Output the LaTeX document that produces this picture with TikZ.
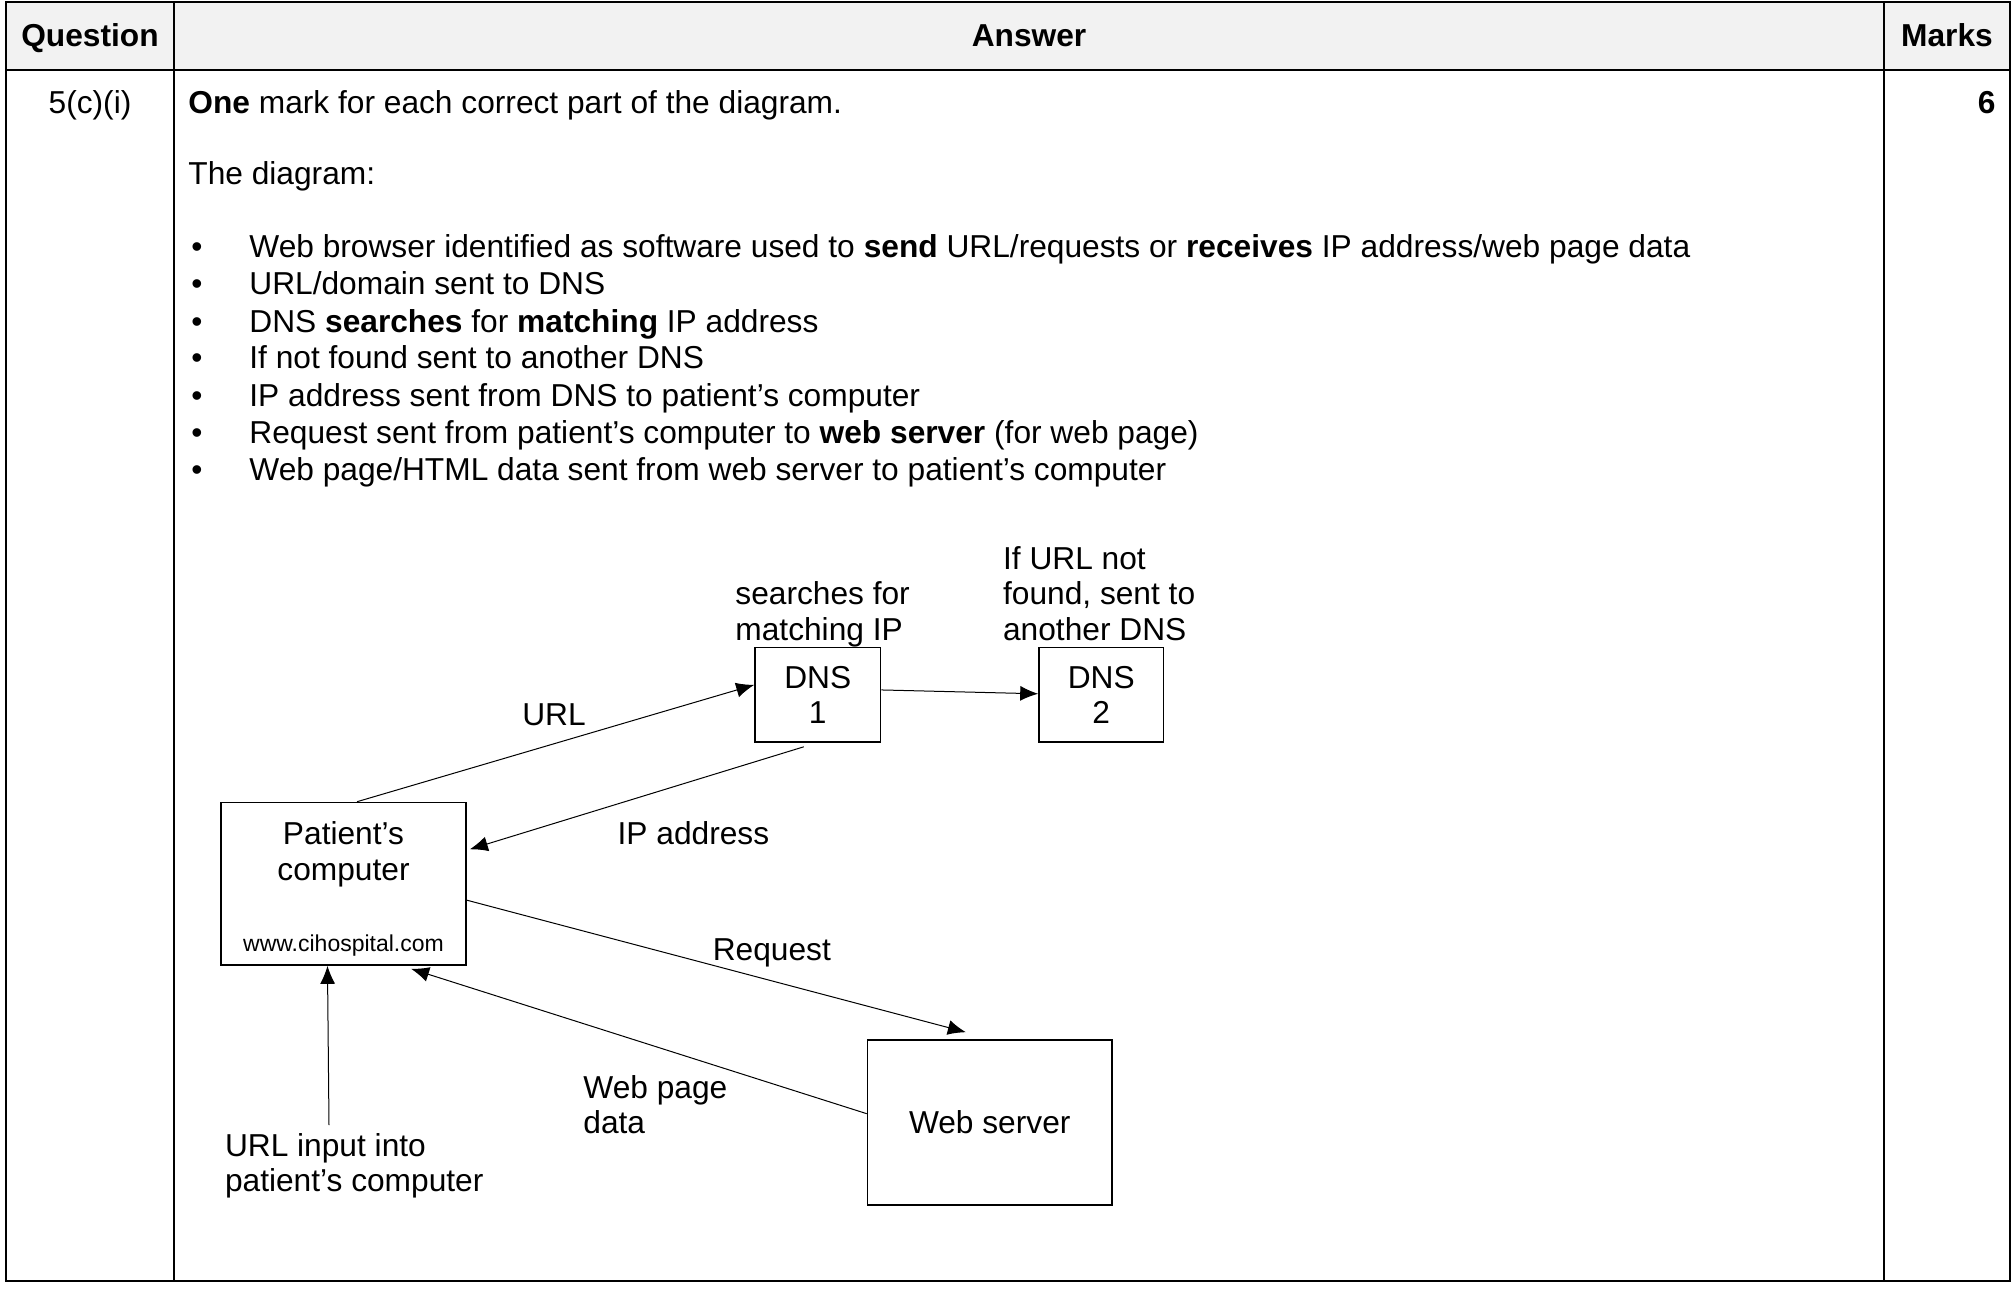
\documentclass[tikz,border=0pt]{standalone}
\usepackage{fontspec}
\setmainfont{Liberation Sans}
\usetikzlibrary{arrows.meta,calc}
\definecolor{headgray}{HTML}{F2F2F2}
\newcommand{\bodyfont}{\fontsize{15.85}{17.75}\selectfont}
\newcommand{\urlfont}{\fontsize{11.5}{13}\selectfont}

\begin{document}
\begin{tikzpicture}[x=0.5pt, y=-0.5pt,
    every node/.style={inner sep=0pt, font=\bodyfont},
    box/.style={draw, line width=0.8pt},
    arr/.style={-{Latex[length=9pt,width=7.5pt]}, line width=0.5pt},
    txt/.style={align=left, anchor=north west}]
  \useasboundingbox (0,0) rectangle (2015,1307);

  % table frame
  \fill[headgray] (6,2) rectangle (2010,70);
  \draw[line width=1.2pt] (6,2) rectangle (2010,1281);
  \draw[line width=1.2pt] (6,70) -- (2010,70);
  \draw[line width=0.9pt] (174,2) -- (174,1281) (1884,2) -- (1884,1281);

  \node[anchor=base, font=\bodyfont\bfseries] (hquest) at (90,46) {Question};
  \node[anchor=base, font=\bodyfont\bfseries] (hans) at (1029,46) {Answer};
  \node[anchor=base, font=\bodyfont\bfseries] (hmarks) at (1947,46) {Marks};
  \node[anchor=base] (qnum) at (90,113) {5(c)(i)};
  \node[anchor=base east, font=\bodyfont\bfseries] (mnum) at (1996,113) {6};

  % answer text
  \node[anchor=base west] (intro) at (188,113) {\textbf{One} mark for each correct part of the diagram.};
  \node[anchor=base west] (thediag) at (188,184) {The diagram:};
  \node[anchor=base west] (d1) at (191,257) {•};
  \node[anchor=base west] (b1) at (249,257) {Web browser identified as software used to \textbf{send} URL/requests or \textbf{receives} IP address/web page data};
  \node[anchor=base west] (d2) at (191,294.5) {•};
  \node[anchor=base west] (b2) at (249,294.5) {URL/domain sent to DNS};
  \node[anchor=base west] (d3) at (191,332) {•};
  \node[anchor=base west] (b3) at (249,332) {DNS \textbf{searches} for \textbf{matching} IP address};
  \node[anchor=base west] (d4) at (191,368) {•};
  \node[anchor=base west] (b4) at (249,368) {If not found sent to another DNS};
  \node[anchor=base west] (d5) at (191,406) {•};
  \node[anchor=base west] (b5) at (249,406) {IP address sent from DNS to patient’s computer};
  \node[anchor=base west] (d6) at (191,443.5) {•};
  \node[anchor=base west] (b6) at (249,443.5) {Request sent from patient’s computer to \textbf{web server} (for web page)};
  \node[anchor=base west] (d7) at (191,480) {•};
  \node[anchor=base west] (b7) at (249,480) {Web page/HTML data sent from web server to patient’s computer};

  % diagram
  \node[box, minimum width=62.75pt, minimum height=47.25pt, align=center] (dns1) at (817.75,694.75) {DNS\\1};
  \node[box, minimum width=62.25pt, minimum height=47.25pt, align=center] (dns2) at (1101.25,694.75) {DNS\\2};
  \node[box, minimum width=122.5pt, minimum height=81.25pt] (pc) at (343.5,883.75) {};
  \node[anchor=north, align=center] (pcname) at ($(pc.north)+(0,19.5)$) {Patient’s\\computer};
  \node[anchor=base, font=\urlfont] (pcurl) at ($(pc.south)+(0,-14)$) {www.cihospital.com};
  \node[box, minimum width=122.25pt, minimum height=82.5pt] (ws) at (989.75,1122.5) {Web server};

  \node[txt] (search) at (735,581.5) {searches for\\matching IP};
  \node[txt] (notfound) at (1002.7,546) {If URL not\\found, sent to\\another DNS};
  \node[anchor=base] (lurl) at (554,725.5) {URL};
  \node[anchor=base] (lip) at (693.4,844.5) {IP address};
  \node[anchor=base] (lreq) at (771.8,960.5) {Request};
  \node[txt] (lweb) at (583,1075) {Web page\\data};
  \node[txt] (urlin) at (224.6,1133) {URL input into\\patient’s computer};

  \draw[arr] ($(pc.north west)!0.555!(pc.north east)$) -- ($(dns1.north west)!0.397!(dns1.south west)$);
  \draw[arr] ($(dns1.north east)!0.45!(dns1.south east)$) -- ($(dns2.north west)!0.49!(dns2.south west)$);
  \draw[arr] ($(dns1.south west)!0.39!(dns1.south east)+(0,4)$) -- ($(pc.north east)!0.29!(pc.south east)+(3,0)$);
  \draw[arr] ($(pc.north east)!0.6!(pc.south east)$) -- ($(ws.north west)!0.403!(ws.north east)+(0,-7)$);
  \draw[arr] ($(ws.north west)!0.447!(ws.south west)$) -- ($(pc.south west)!0.774!(pc.south east)+(0,3)$);
  \coordinate (urlstart) at (329,1125);
  \draw[arr] (urlstart) -- ($(pc.south west)!0.435!(pc.south east)$);
\end{tikzpicture}
\end{document}
